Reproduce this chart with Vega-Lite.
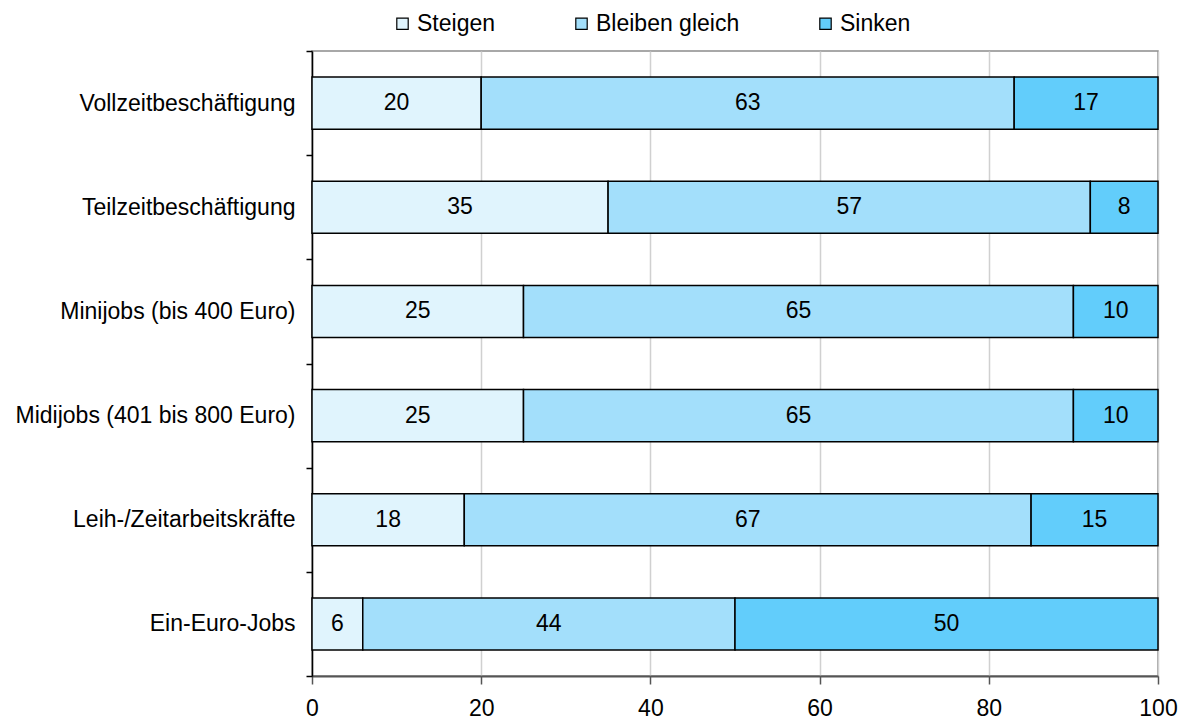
{
  "$schema": "https://vega.github.io/schema/vega-lite/v6.json",
  "width": 846,
  "height": 625,
  "autosize": {"type": "none"},
  "padding": {"left": 312, "top": 51, "right": 26, "bottom": 46},
  "config": {
    "font": "Liberation Sans",
    "view": {"stroke": "#8c8c8c", "strokeWidth": 1.5}
  },
  "data": {
    "values": [
      {"kategorie": "Vollzeitbeschäftigung", "antwort": "Steigen", "rang": 1, "anteil": 20},
      {"kategorie": "Vollzeitbeschäftigung", "antwort": "Bleiben gleich", "rang": 2, "anteil": 63},
      {"kategorie": "Vollzeitbeschäftigung", "antwort": "Sinken", "rang": 3, "anteil": 17},
      {"kategorie": "Teilzeitbeschäftigung", "antwort": "Steigen", "rang": 1, "anteil": 35},
      {"kategorie": "Teilzeitbeschäftigung", "antwort": "Bleiben gleich", "rang": 2, "anteil": 57},
      {"kategorie": "Teilzeitbeschäftigung", "antwort": "Sinken", "rang": 3, "anteil": 8},
      {"kategorie": "Minijobs (bis 400 Euro)", "antwort": "Steigen", "rang": 1, "anteil": 25},
      {"kategorie": "Minijobs (bis 400 Euro)", "antwort": "Bleiben gleich", "rang": 2, "anteil": 65},
      {"kategorie": "Minijobs (bis 400 Euro)", "antwort": "Sinken", "rang": 3, "anteil": 10},
      {"kategorie": "Midijobs (401 bis 800 Euro)", "antwort": "Steigen", "rang": 1, "anteil": 25},
      {"kategorie": "Midijobs (401 bis 800 Euro)", "antwort": "Bleiben gleich", "rang": 2, "anteil": 65},
      {"kategorie": "Midijobs (401 bis 800 Euro)", "antwort": "Sinken", "rang": 3, "anteil": 10},
      {"kategorie": "Leih-/Zeitarbeitskräfte", "antwort": "Steigen", "rang": 1, "anteil": 18},
      {"kategorie": "Leih-/Zeitarbeitskräfte", "antwort": "Bleiben gleich", "rang": 2, "anteil": 67},
      {"kategorie": "Leih-/Zeitarbeitskräfte", "antwort": "Sinken", "rang": 3, "anteil": 15},
      {"kategorie": "Ein-Euro-Jobs", "antwort": "Steigen", "rang": 1, "anteil": 6},
      {"kategorie": "Ein-Euro-Jobs", "antwort": "Bleiben gleich", "rang": 2, "anteil": 44},
      {"kategorie": "Ein-Euro-Jobs", "antwort": "Sinken", "rang": 3, "anteil": 50}
    ]
  },
  "transform": [
    {"stack": "anteil", "groupby": ["kategorie"], "sort": [{"field": "rang", "order": "ascending"}], "as": ["von", "bis"]},
    {"calculate": "(datum.von + datum.bis) / 2", "as": "mitte"}
  ],
  "encoding": {
    "y": {
      "field": "kategorie",
      "type": "nominal",
      "sort": ["Vollzeitbeschäftigung", "Teilzeitbeschäftigung", "Minijobs (bis 400 Euro)", "Midijobs (401 bis 800 Euro)", "Leih-/Zeitarbeitskräfte", "Ein-Euro-Jobs"],
      "scale": {"paddingInner": 0, "paddingOuter": 0},
      "axis": {
        "title": null,
        "tickBand": "extent",
        "tickSize": 6,
        "tickColor": "#000000",
        "tickWidth": 1.5,
        "domainColor": "#000000",
        "domainWidth": 1.5,
        "labelFontSize": 23,
        "labelLimit": 0,
        "labelColor": "#000000",
        "labelPadding": 11,
        "grid": false
      }
    }
  },
  "layer": [
    {
      "mark": {"type": "bar", "height": {"band": 0.5}, "stroke": "#000000", "strokeWidth": 1.5},
      "encoding": {
        "x": {
          "field": "von",
          "type": "quantitative",
          "scale": {"domain": [0, 100], "nice": false},
          "axis": {
            "title": null,
            "values": [0, 20, 40, 60, 80, 100],
            "grid": true,
            "gridColor": "#d0d0d0",
            "gridWidth": 1.5,
            "domainColor": "#555555",
            "domainWidth": 2,
            "tickColor": "#555555",
            "tickWidth": 1.5,
            "tickSize": 8,
            "labelFontSize": 23,
            "labelColor": "#000000",
            "labelPadding": 13,
            "labelFlush": false
          }
        },
        "x2": {"field": "bis"},
        "color": {
          "field": "antwort",
          "type": "nominal",
          "scale": {
            "domain": ["Steigen", "Bleiben gleich", "Sinken"],
            "range": ["#e0f4fd", "#a3dffb", "#62cdfb"]
          },
          "legend": {
            "title": null,
            "orient": "none",
            "direction": "horizontal",
            "legendX": 79,
            "legendY": -39,
            "symbolType": "square",
            "symbolSize": 130,
            "symbolStrokeColor": "#000000",
            "symbolStrokeWidth": 1.2,
            "symbolOpacity": 1,
            "labelFontSize": 23,
            "labelColor": "#000000",
            "labelOffset": 3,
            "columnPadding": 74
          }
        }
      }
    },
    {
      "mark": {"type": "text", "fontSize": 23, "color": "#000000"},
      "encoding": {
        "x": {"field": "mitte", "type": "quantitative"},
        "text": {"field": "anteil", "type": "quantitative"}
      }
    }
  ]
}
